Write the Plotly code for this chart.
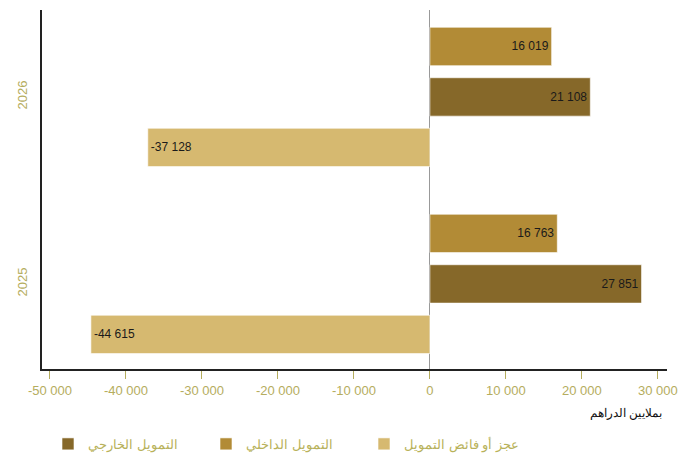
import plotly.graph_objects as go

years = ["2025", "2026"]
deficit = [-44615, -37128]
external = [27851, 21108]
internal = [16763, 16019]
name_deficit = "عجز أو فائض التمويل"
name_external = "التمويل الخارجي"
name_internal = "التمويل الداخلي"
tick_vals = [-50000, -40000, -30000, -20000, -10000, 0, 10000, 20000, 30000]
tick_text = ["-50 000", "-40 000", "-30 000", "-20 000", "-10 000", "0", "10 000", "20 000", "30 000"]

c_light = "#d6b970"
c_dark = "#866829"
c_mid = "#b28b36"
gold_txt = "#b5ad5e"
legend_txt = "#b8b25a"

fig = go.Figure()
for name, vals, col, rank in [
    (name_deficit, deficit, c_light, 3),
    (name_external, external, c_dark, 1),
    (name_internal, internal, c_mid, 2),
]:
    fig.add_trace(go.Bar(
        y=years, x=vals, name=name, orientation="h",
        marker=dict(color=col, line=dict(color="rgba(255,255,255,0.6)", width=1)),
        text=vals, texttemplate="%{x:,}", textposition="inside",
        insidetextanchor="end", textangle=0,
        textfont=dict(color="#1a1a1a", size=12, family="Liberation Sans, Arial"),
        legendrank=rank,
    ))

fig.update_layout(
    width=699, height=456,
    margin=dict(l=34, r=40, t=2, b=95, autoexpand=False),
    plot_bgcolor="white", paper_bgcolor="white",
    barmode="group", bargap=0.19, bargroupgap=0.24,
    separators=". ",
    font=dict(family="Liberation Sans, Arial", size=13),
    showlegend=True,
    legend=dict(orientation="h", x=0.0096, xanchor="left", xref="paper",
                y=0.044, yanchor="middle", yref="container",
                entrywidth=113, entrywidthmode="pixels",
                font=dict(color=legend_txt, size=13), traceorder="normal"),
    xaxis=dict(range=[-51050, 31200], tickvals=tick_vals, ticktext=tick_text,
               showgrid=False, zeroline=True, zerolinecolor="#999999", zerolinewidth=1,
               showline=True, linecolor="#222222", linewidth=2, automargin=False,
               ticks="outside", tickcolor=gold_txt, ticklen=8,
               tickfont=dict(color=gold_txt, size=13)),
    yaxis=dict(range=[-0.455, 1.465], showgrid=False, zeroline=False, automargin=False,
               showline=True, linecolor="#222222", linewidth=2, ticklabelstandoff=8,
               tickangle=-90, tickfont=dict(color=gold_txt, size=13), ticks=""),
    annotations=[dict(text="بملايين الدراهم", xref="paper", yref="paper",
                      x=0.995, y=-0.1226, xanchor="right", yanchor="middle", showarrow=False,
                      font=dict(color="#111111", size=12))],
)

fig.write_html("out.html")
